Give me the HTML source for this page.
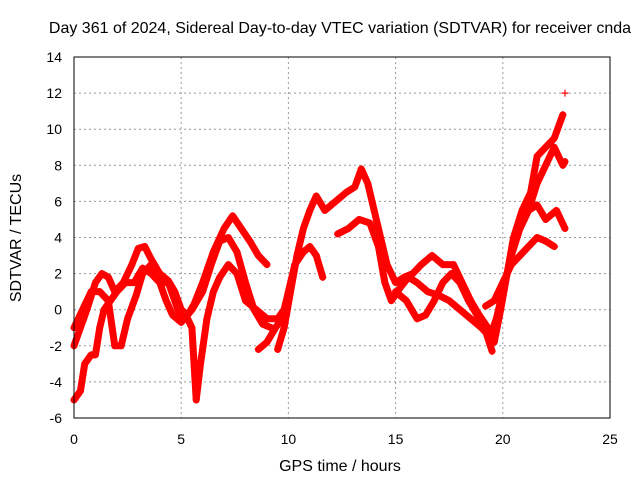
<!DOCTYPE html>
<html><head><meta charset="utf-8"><style>
body{margin:0;background:#fff;}
svg{display:block;font-family:"Liberation Sans",sans-serif;}
</style></head><body>
<svg id="chart" width="640" height="480">
<text x="340" y="33" font-size="16" text-anchor="middle" fill="#000">Day 361 of 2024, Sidereal Day-to-day VTEC variation (SDTVAR) for receiver cnda</text>
<text x="340" y="471" font-size="16" text-anchor="middle">GPS time / hours</text>
<text transform="translate(21,238) rotate(-90)" font-size="16" text-anchor="middle">SDTVAR / TECUs</text>
<g id="grid"></g>
<g id="ticks"></g>
<g id="marks"></g>
<rect x="74" y="57" width="536" height="361" fill="none" stroke="#000"/>
</svg>
<script>
const xTicks=[0,5,10,15,20,25];
const yTicks=[-6,-4,-2,0,2,4,6,8,10,12,14];
const series1=[[0,-2],[0.3,-1],[0.6,0],[1,1.5],[1.3,2],[1.6,1.8],[1.9,1],[2.3,1.5],[2.7,2.5],[3,3.4],[3.3,3.5],[3.6,2.8],[4,2],[4.4,1.6],[4.7,1],[5,0],[5.3,-0.3],[5.6,0.3],[6,1.5],[6.5,3.2],[7,4.5],[7.4,5.2],[7.8,4.5],[8.2,3.8],[8.6,3],[9,2.5]];
const series2=[[0,-5],[0.3,-4.5],[0.5,-3],[0.8,-2.5],[1,-2.5],[1.2,-1],[1.4,0],[1.7,0.5],[2,1],[2.4,1.5],[2.8,1.5],[3.2,2.3],[3.6,2],[4,1.5],[4.4,1.5],[4.7,0.5],[5,-0.5],[5.3,-0.5],[5.5,-1],[5.6,-3],[5.7,-5],[5.9,-3],[6.2,-0.5],[6.5,1],[6.8,1.8],[7.2,2.5],[7.6,2],[8,0.5],[8.5,0],[9,-0.5],[9.5,-0.5],[9.8,0]];
const series3=[[0,-1],[0.4,0],[0.8,1],[1.2,1],[1.6,0.5],[1.9,-2],[2.2,-2],[2.5,-0.5],[2.9,0.8],[3.2,2],[3.6,2.5],[4,1.5],[4.3,0.5],[4.6,-0.3],[5,-0.7],[5.5,0],[6,1],[6.4,2.5],[6.8,3.8],[7.2,4],[7.6,3.2],[8,1.5],[8.4,0],[8.8,-0.8],[9.2,-1]];
const series4=[[8.6,-2.2],[9,-1.8],[9.4,-1],[9.7,-0.5],[10,1],[10.3,2.5],[10.7,3.2],[11,3.5],[11.3,3],[11.6,1.8]];
const series5=[[9.5,-2.2],[9.8,-1],[10.1,1],[10.4,3],[10.7,4.5],[11,5.5],[11.3,6.3],[11.7,5.5],[12.2,6],[12.7,6.5],[13.1,6.8],[13.4,7.8],[13.7,7],[14,5.5],[14.3,4],[14.6,2.5],[15,1.5],[15.4,1.8],[15.8,2],[16.2,2.5],[16.7,3],[17.2,2.5],[17.7,2.5],[18.1,1.5],[18.5,0.5],[18.9,-0.3],[19.3,-1],[19.6,-1.8],[19.9,0],[20.2,2],[20.5,4],[20.9,5.5],[21.3,6.5],[21.6,8.5],[22,9],[22.4,9.5],[22.8,10.8]];
const series6=[[12.3,4.2],[12.8,4.5],[13.3,5],[13.8,4.8],[14.2,3.5],[14.5,1.5],[14.8,0.5],[15.2,1.2],[15.6,1.8],[16,1.5],[16.5,1],[17,0.8],[17.5,0.5],[18,0],[18.5,-0.5],[19,-1],[19.4,-1.5],[19.7,-0.5],[20,1],[20.4,3],[20.8,4.5],[21.2,5.5],[21.6,5.8],[22,5],[22.5,5.5],[22.9,4.5]];
const series7=[[15,1],[15.5,0.5],[16,-0.5],[16.4,-0.3],[16.8,0.5],[17.2,1.5],[17.6,2],[18,1.5],[18.4,0.5],[18.8,-0.3],[19.2,-1.2],[19.5,-2.3]];
const series8=[[19.2,0.2],[19.6,0.5],[20,1.5],[20.4,2.5],[20.8,3],[21.2,3.5],[21.6,4],[22,3.8],[22.4,3.5]];
const series9=[[20.8,4.5],[21.2,5.5],[21.6,7],[22,8],[22.4,9],[22.8,8],[22.9,8.2]];
const series10=[[22.9,12]];
const allSeries=[series1,series2,series3,series4,series5,series6,series7,series8,series9,series10];
const NS="http://www.w3.org/2000/svg";
const X=v=>74+v*536/25, Y=v=>418-(v+6)*361/20;
const g=document.getElementById('grid'), t=document.getElementById('ticks'), m=document.getElementById('marks');
function mk(tag,attrs,parent){const e=document.createElementNS(NS,tag);for(const k in attrs)e.setAttribute(k,attrs[k]);parent.appendChild(e);return e;}
xTicks.forEach(v=>{
  if(v>0&&v<25){const l=mk('line',{x1:X(v),x2:X(v),y1:57,y2:418,stroke:'#999','stroke-dasharray':'2,3'},g);
  
  }
  const tx=mk('text',{x:X(v),y:444,'font-size':14,'text-anchor':'middle'},t);tx.textContent=v;
  
  
});
yTicks.forEach(v=>{
  if(v>-6&&v<14){const l=mk('line',{x1:74,x2:610,y1:Y(v),y2:Y(v),stroke:'#999','stroke-dasharray':'2,3'},g);
  
  }
  const tx=mk('text',{x:62,y:Y(v)+5,'font-size':14,'text-anchor':'end'},t);tx.textContent=v;
  
  
});
allSeries.forEach((s,i)=>{
  if(s.length>1){const p=mk('polyline',{points:s.map(d=>X(d[0])+','+Y(d[1])).join(' '),fill:'none',stroke:'#f00','stroke-width':7,'stroke-linejoin':'round','stroke-linecap':'round'},m);
  
  }
  s.forEach(d=>{const x=X(d[0]),y=Y(d[1]);
    const c=mk('path',{d:`M${x-3.5},${y}H${x+3.5}M${x},${y-3.5}V${y+3.5}`,stroke:'#f00','stroke-width':1.2},m);
    
    
  });
});
</script>
</body></html>
